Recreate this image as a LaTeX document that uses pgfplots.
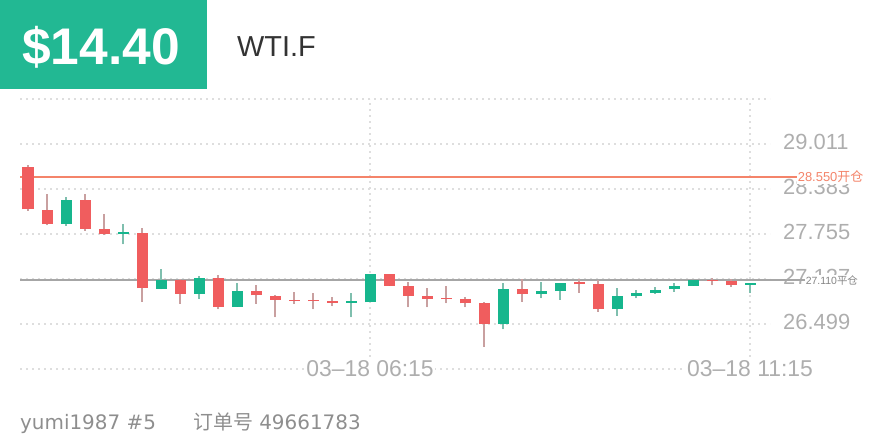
\documentclass[border=0pt]{standalone}
\usepackage{pgfplots}
\pgfplotsset{compat=1.18}
\usepackage{pgfplotstable}
\usepackage{fontspec}
\setmainfont{Liberation Sans}
\newfontfamily\cjk{Noto Sans CJK SC}
\newfontfamily\dejavu{DejaVu Sans}
\definecolor{hdrgreen}{HTML}{22B893}
\definecolor{upc}{HTML}{16B68D}
\definecolor{downc}{HTML}{F05D5E}
\definecolor{upw}{HTML}{7FBFAE}
\definecolor{downw}{HTML}{C9A0A0}
\definecolor{gridc}{HTML}{DEDEDE}
\definecolor{tickc}{HTML}{AEAEAE}
\definecolor{openc}{HTML}{F4846A}
\definecolor{closel}{HTML}{A6A6A6}
\definecolor{closet}{HTML}{858585}
\definecolor{footc}{HTML}{8E8E8E}
\definecolor{titc}{HTML}{333333}

\pgfplotstableread{
i o h l c
0 28.694 28.722 28.076 28.100
1 28.090 28.309 27.876 27.894
3 28.229 28.309 27.801 27.829
4 27.825 28.034 27.741 27.751
6 27.773 27.834 26.810 27.000
8 27.113 27.127 26.778 26.918
10 27.145 27.183 26.704 26.740
12 26.964 27.043 26.778 26.899
13 26.894 26.900 26.592 26.834
14 26.826 26.950 26.778 26.822
15 26.822 26.927 26.704 26.818
16 26.824 26.880 26.750 26.796
19 27.197 27.200 27.033 27.033
20 27.029 27.089 26.732 26.890
21 26.890 26.997 26.732 26.852
22 26.850 27.029 26.788 26.846
23 26.844 26.880 26.732 26.788
24 26.788 26.810 26.182 26.499
26 26.983 27.123 26.810 26.913
29 27.081 27.123 26.936 27.053
30 27.053 27.113 26.671 26.708
36 27.113 27.137 27.043 27.099
37 27.103 27.123 27.020 27.043
}\downtab

\pgfplotstableread{
i o h l c
2 27.894 28.267 27.867 28.229
5 27.751 27.895 27.611 27.779
7 26.991 27.262 26.983 27.113
9 26.918 27.169 26.852 27.145
11 26.740 27.067 26.740 26.964
17 26.796 26.936 26.592 26.800
18 26.802 27.200 26.800 27.197
25 26.499 27.067 26.425 26.983
27 26.913 27.089 26.858 26.959
28 26.959 27.070 26.834 27.067
31 26.708 26.997 26.615 26.890
32 26.894 26.973 26.858 26.936
33 26.936 27.011 26.918 26.973
34 26.983 27.067 26.950 27.029
35 27.033 27.113 27.030 27.113
38 27.047 27.067 26.936 27.067
}\uptab

\pgfplotsset{candle/.style={only marks, mark=*, mark size=0pt,
  mark options={draw=none, fill=none}, forget plot,
  error bars/y dir=plus, error bars/y explicit, error bars/error mark=none}}

\begin{document}
\begin{tikzpicture}[x=1bp,y=1bp]
\path[use as bounding box] (0,0) rectangle (880,440);
% header
\fill[hdrgreen] (0,351) rectangle (207,440);
\node[anchor=base west, inner sep=0pt, text=white, font=\fontsize{51.7}{52}\selectfont\bfseries] at (22,375) {\$14.40};
\node[anchor=base west, inner sep=0pt, text=titc, font=\fontsize{29}{30}\selectfont] at (237,383) {WTI.F};

\begin{axis}[
  at={(20bp,71bp)}, anchor=south west,
  scale only axis, width=750bp, height=270bp,
  xmin=-0.421, xmax=39.05, ymin=25.871, ymax=29.639,
  clip=false,
  axis line style={draw=none}, tick style={draw=none}, major tick length=0pt,
  xtick={18,38}, xticklabels={03--18 06:15, 03--18 11:15},
  ytick={25.871,26.499,27.127,27.755,28.383,29.011,29.639},
  yticklabels={,26.499,27.127,27.755,28.383,29.011,},
  yticklabel pos=right,
  grid=major,
  major grid style={color=gridc, line width=1.6bp, dash pattern=on 1.8bp off 4.2bp},
  yticklabel style={anchor=west, inner sep=0pt, xshift=13bp, yshift=2bp, text=tickc, font=\fontsize{22}{22}\selectfont},
  xticklabel style={anchor=center, fill=white, inner sep=1.5bp, text=tickc, font=\fontsize{23}{23}\selectfont},
]
% reference lines
\addplot[openc, line width=1.2bp, forget plot] coordinates {(-0.421,28.55) (40.47,28.55)};
\addplot[closel, line width=1.5bp, forget plot] coordinates {(-0.421,27.11) (40.89,27.11)};
\coordinate (olab) at (axis cs:40.47,28.55);
\coordinate (clab) at (axis cs:40.89,27.11);
% wicks
\addplot[candle, error bars/error bar style={line width=1.2bp, color=downw}]
  table[x=i, y=l, y error plus expr={\thisrow{h}-\thisrow{l}}] {\downtab};
\addplot[candle, error bars/error bar style={line width=1.2bp, color=upw}]
  table[x=i, y=l, y error plus expr={\thisrow{h}-\thisrow{l}}] {\uptab};
% bodies
\addplot[candle, error bars/error bar style={line width=11bp, color=downc}]
  table[x=i, y expr={min(\thisrow{o},\thisrow{c})}, y error plus expr={max(abs(\thisrow{o}-\thisrow{c}),0.018)}] {\downtab};
\addplot[candle, error bars/error bar style={line width=11bp, color=upc}]
  table[x=i, y expr={min(\thisrow{o},\thisrow{c})}, y error plus expr={max(abs(\thisrow{o}-\thisrow{c}),0.018)}] {\uptab};
\end{axis}

\node[anchor=west, fill=white, inner sep=0.6bp, text=openc, font=\fontsize{13}{13}\selectfont] at (olab) {28.550{\cjk 开仓}};
\node[anchor=west, fill=white, inner sep=0.6bp, text=closet, font=\fontsize{10.5}{10.5}\selectfont] at (clab) {27.110{\cjk 平仓}};

% footer
\node[anchor=base west, inner sep=0pt, text=footc, font=\dejavu\fontsize{20}{20}\selectfont] at (20,10.7) {yumi1987 \#5};
\node[anchor=base west, inner sep=0pt, text=footc, font=\dejavu\fontsize{20}{20}\selectfont] at (193,10.7) {{\cjk 订单号} 49661783};
\end{tikzpicture}
\end{document}
